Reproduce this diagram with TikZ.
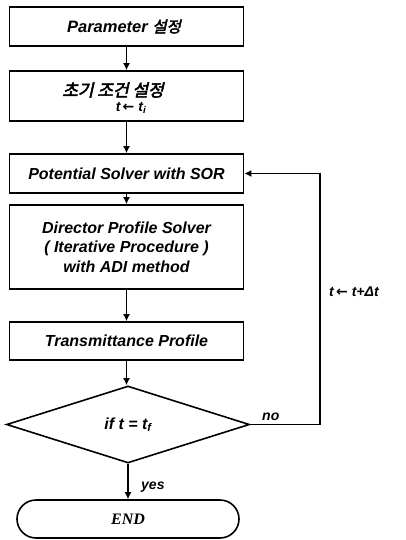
\documentclass[tikz,border=0pt]{standalone}
\usepackage{fontspec}
\setmainfont{Liberation Sans}
\newfontfamily\kr{Noto Sans CJK KR}[FakeSlant=0.22,FakeBold=3]
\newfontfamily\sym{DejaVu Sans}
\newfontfamily\serifit{Liberation Serif}
\usetikzlibrary{shapes.geometric,arrows.meta}

% Korean text set in a slanted, emboldened CJK face
\newcommand{\hangul}[1]{{\normalfont\kr #1}}
\newcommand{\larr}{{\sym\char"2190}}

\begin{document}
\begin{tikzpicture}[x=1pt,y=-1pt,
  stepbox/.style={draw, line width=1.6pt, minimum width=234pt, inner sep=0pt,
    align=center, font=\bfseries\itshape\fontsize{16}{19.5}\selectfont},
  flow/.style={line width=1.6pt, -{Latex[length=7pt,width=7pt]}},
  tag/.style={inner sep=0pt, font=\bfseries\itshape\fontsize{14}{16}\selectfont}]

\path[use as bounding box, fill=white] (0,0) rectangle (406,540);

% process boxes
\node[stepbox, minimum height=39pt] (par) at (126.5,26.5) {};
\node[inner sep=0pt, font=\bfseries\itshape\fontsize{16.5}{19}\selectfont] (partxt) at (124,26.5)
  {Parameter \hangul{\fontsize{15.5}{18}\selectfont 설정}};
\node[stepbox, minimum height=50pt] (init) at (126.5,96) {};
\node[inner sep=0pt, font=\fontsize{17}{20}\selectfont] (initkr) at (113,90)
  {\hangul{초기 조건 설정}};
\node[tag] (initt) at (131,108) {t\,\larr\ t\textsubscript{i}};
\node[stepbox, minimum height=39pt] (pot) at (126.5,173.5) {Potential Solver with SOR};
\node[stepbox, minimum height=84pt] (dir) at (126.5,247)
  {Director Profile Solver\\( Iterative Procedure )\\with ADI method};
\node[stepbox, minimum height=38pt] (tra) at (126.5,341) {Transmittance Profile};

% decision and terminal
\node[diamond, draw, line width=1.6pt, minimum width=243pt, minimum height=77pt,
  inner sep=0pt, font=\bfseries\itshape\fontsize{16}{19}\selectfont]
  (chk) at (128,424.5) {if t = t\textsubscript{f}};
\node[draw, line width=1.6pt, rounded corners=19pt, minimum width=222pt,
  minimum height=38pt, font=\serifit\bfseries\itshape\fontsize{16}{19}\selectfont]
  (fin) at (128,519) {END};

% main flow
\draw[flow] (par) -- (init);
\draw[flow] (init) -- (pot);
\draw[flow] (pot) -- (dir);
\draw[flow] (dir) -- (tra);
\draw[flow] (tra.south) -- (tra.south |- chk.north);
\draw[flow] (chk.south) -- (chk.south |- fin.north);

% time-step loop back to the potential solver
\coordinate (loopx) at (320,0);
\draw[flow] (chk.east) -- (chk.east -| loopx) -- (pot.east -| loopx) -- (pot.east);

% labels
\node[tag, anchor=south west] (no) at (262,421) {no};
\node[tag, anchor=west] (yes) at (141,487) {yes};
\node[tag, anchor=west] (incr) at (329,292) {t\,\larr\ t+Δt};
\end{tikzpicture}
\end{document}
